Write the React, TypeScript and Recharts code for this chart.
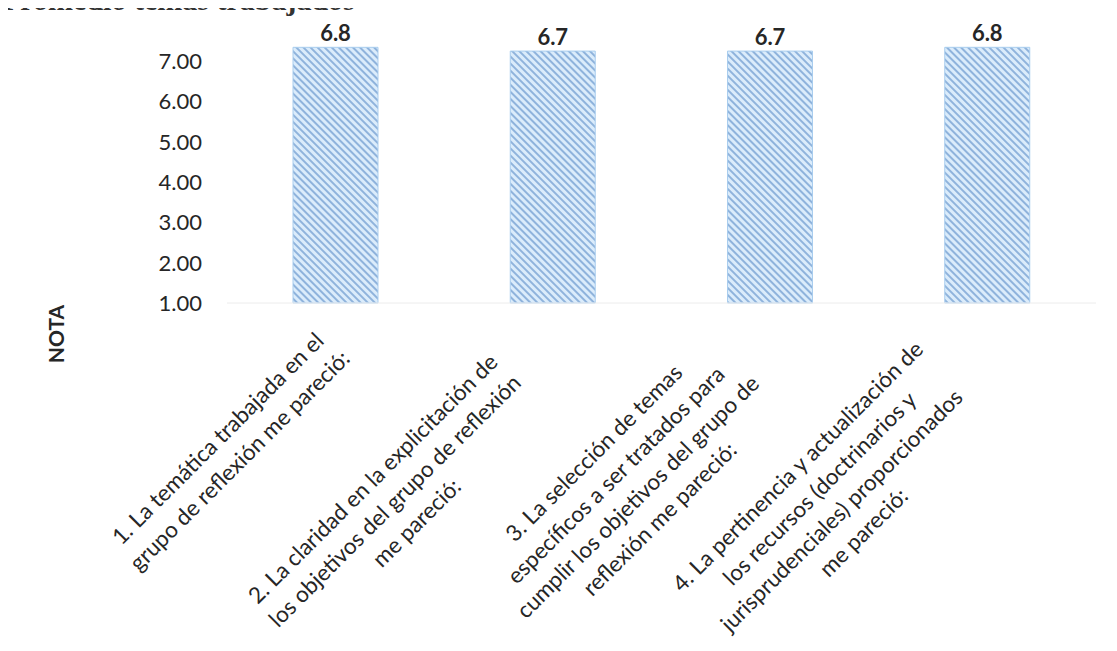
import * as React from "react";
import { BarChart, Bar, XAxis, YAxis, LabelList } from "recharts";

const categoryLines = [
  ["1. La temática trabajada en el", "grupo de reflexión me pareció:"],
  ["2. La claridad en la explicitación de", "los objetivos del grupo de reflexión", "me pareció:"],
  ["3. La selección de temas", "específicos a ser tratados para", "cumplir los objetivos del grupo de", "reflexión me pareció:"],
  ["4. La pertinencia y actualización de", "los recursos (doctrinarios y", "jurisprudenciales) proporcionados", "me pareció:"],
];
const notas = [6.8, 6.7, 6.7, 6.8];
const yTicks = [1, 2, 3, 4, 5, 6, 7];

const data = categoryLines.map((lines, i) => ({ name: lines.join(" "), nota: notas[i] }));

const FONT = "Lato, 'Open Sans', sans-serif";
const LABEL_SIZE = 22.5;
const LINE_H = 31;

let measureCtx: CanvasRenderingContext2D | null = null;
function textWidth(s: string) {
  if (!measureCtx) {
    measureCtx = document.createElement("canvas").getContext("2d");
  }
  if (!measureCtx) return s.length * LABEL_SIZE * 0.48;
  measureCtx.font = `${LABEL_SIZE}px Lato`;
  return measureCtx.measureText(s).width;
}

// rotated, wrapped and centred category label (excel style)
function CategoryTick(props: any) {
  const { x, y, index } = props;
  const lines = categoryLines[index] || [];
  const w = Math.max(...lines.map(textWidth));
  const uc = -200 - 1.6 * (w - 313);
  const vc = 28;
  const n = lines.length;
  return (
    <g transform={`translate(${x},${y}) rotate(-45)`}>
      {lines.map((line, i) => (
        <text
          key={i}
          x={uc}
          y={vc + (i - (n - 1) / 2) * LINE_H}
          dy="0.35em"
          textAnchor="middle"
          fontFamily={FONT}
          fontSize={LABEL_SIZE}
          fill="#262626"
        >
          {line}
        </text>
      ))}
    </g>
  );
}

export default function App() {
  return (
    <div style={{ position: "relative", width: 1117, height: 651, margin: "-8px 0 0 -8px", overflow: "hidden", background: "#fff" }}>
      <BarChart
        width={1117}
        height={651}
        data={data}
        margin={{ top: 21, right: 21, bottom: 0, left: 0 }}
        barSize={85}
      >
        <defs>
          <pattern id="hatch" patternUnits="userSpaceOnUse" width="5" height="5" patternTransform="rotate(-45)">
            <rect width="5" height="5" fill="#dbecfb" />
            <rect width="2" height="5" fill="#8fb3dc" />
          </pattern>
        </defs>
        <XAxis
          dataKey="name"
          height={348}
          interval={0}
          tickSize={0}
          tickMargin={0}
          axisLine={{ stroke: "#ececec" }}
          tickLine={false}
          tick={<CategoryTick />}
        />
        <YAxis
          yAxisId="left"
          type="number"
          width={227}
          domain={[1, 8]}
          allowDataOverflow
          ticks={yTicks}
          interval={0}
          tickFormatter={(v: number) => v.toFixed(2)}
          axisLine={false}
          tickLine={false}
          tickSize={0}
          tickMargin={25}
          tick={{ fontFamily: FONT, fontSize: 22, fill: "#262626" }}
          label={{
            content: () => (
              <text
                x={57}
                y={334}
                transform="rotate(-90, 57, 334)"
                textAnchor="middle"
                dy="0.35em"
                fontFamily={FONT}
                fontWeight="bold"
                fontSize={21}
                fill="#262626"
              >
                NOTA
              </text>
            ),
          }}
        />
        <YAxis yAxisId="bars" orientation="right" hide domain={[0, 7.5]} />
        <Bar yAxisId="bars" dataKey="nota" fill="url(#hatch)" stroke="#a9cdee" strokeWidth={1} isAnimationActive={false}>
          <LabelList
            dataKey="nota"
            position="top"
            offset={6}
            formatter={(v: any) => Number(v).toFixed(1)}
            style={{ fontFamily: FONT, fontWeight: "bold", fontSize: 22, fill: "#262626" }}
          />
        </Bar>
      </BarChart>
      <div
        style={{
          position: "absolute",
          top: -15,
          left: 2,
          fontFamily: "'Liberation Serif', serif",
          fontWeight: "bold",
          fontSize: 30,
          lineHeight: "30px",
          color: "#333",
          whiteSpace: "nowrap",
        }}
      >
        Promedio temas trabajados
      </div>
    </div>
  );
}
